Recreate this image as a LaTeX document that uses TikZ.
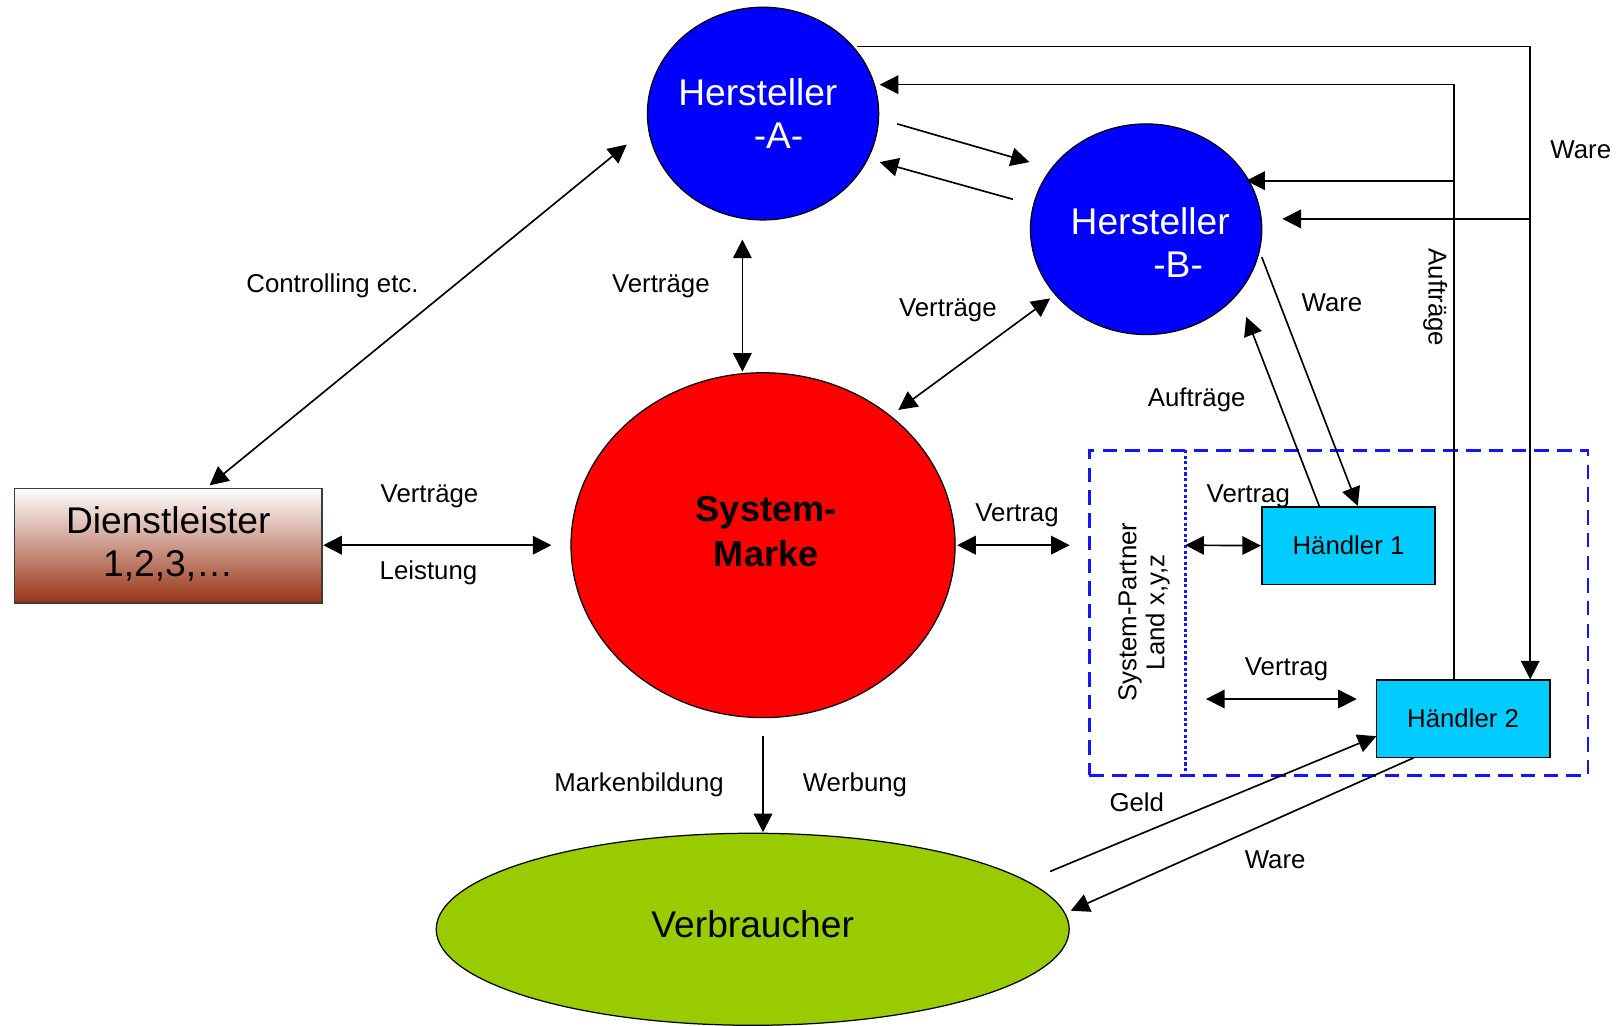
\documentclass[tikz,border=0pt]{standalone}
\usepackage{fontspec}
\setmainfont{Liberation Sans}
\usetikzlibrary{shapes.geometric,arrows.meta}
\definecolor{hblue}{RGB}{0,0,255}
\definecolor{mred}{RGB}{255,0,0}
\definecolor{vgreen}{RGB}{153,204,0}
\definecolor{hcyan}{RGB}{0,204,255}
\definecolor{dbrown}{RGB}{153,51,21}
\definecolor{sblue}{RGB}{20,20,255}
\tikzset{
  lbl/.style={font=\fontsize{25}{29}\selectfont, inner sep=0pt},
  bigtxt/.style={font=\fontsize{36}{41.5}\selectfont, align=center, inner sep=0pt},
  conn/.style={line width=1.6pt},
  arr/.style={conn, -{Triangle[length=18pt,width=18pt]}},
  darr/.style={conn, {Triangle[length=18pt,width=18pt]}-{Triangle[length=18pt,width=18pt]}},
  oval/.style={ellipse, draw=black, line width=1.2pt, inner sep=0pt},
  haendler/.style={rectangle, draw=black, line width=1.6pt, fill=hcyan, minimum width=168pt, minimum height=75pt, inner sep=0pt, font=\fontsize{25}{29}\selectfont}
}
\begin{document}
\begin{tikzpicture}[x=1pt,y=-1pt]
\useasboundingbox (0,0) rectangle (1568,993);

% main shapes
\node[oval, fill=hblue, minimum width=224pt, minimum height=206pt] (A) at (739,110) {};
\node[bigtxt, text=white] (Atxt) at (734,110) {Hersteller\\\hspace*{40pt}-A-};
\node[oval, fill=hblue, minimum width=224pt, minimum height=204pt] (B) at (1110,222) {};
\node[bigtxt, text=white] (Btxt) at (1114,235) {Hersteller\\\hspace*{54pt}-B-};
\node[oval, fill=mred, minimum width=372pt, minimum height=334pt] (M) at (739,528) {};
\node[bigtxt, font=\fontsize{35}{44}\selectfont\bfseries] (Mtxt) at (742,515) {System-\\Marke};
\node[oval, fill=vgreen, minimum width=613pt, minimum height=186pt] (V) at (729,900) {};
\node[bigtxt] (Vtxt) at (729,895) {Verbraucher};
\node[rectangle, draw={rgb,255:red,60;green,60;blue,60}, line width=1.6pt, top color=white, bottom color=dbrown, minimum width=298pt, minimum height=111pt, inner sep=0pt] (D) at (163,528.5) {};
\node[bigtxt] (Dtxt) at (163,527) {Dienstleister\\1,2,3,…};

% System-Partner area
\node[rectangle, draw=sblue, line width=2.6pt, dash pattern=on 14pt off 8pt, minimum width=483pt, minimum height=315pt, inner sep=0pt] (SP) at (1296.5,593.5) {};
\coordinate (dotT) at (1148,436);
\coordinate (dotB) at (1148,751);
\draw[sblue, line width=3pt, dash pattern=on 3pt off 2.4pt] (dotT) -- (dotB);
\node[lbl, rotate=90, align=center, font=\fontsize{25}{27}\selectfont] (SPtxt) at (1108,593) {System-Partner\\Land x,y,z};

\node[haendler] (H1) at (1306,528.5) {Händler 1};
\node[haendler] (H2) at (1417,696) {Händler 2};

% Controlling
\coordinate (c1a) at (607,140); \coordinate (c1b) at (203,470);
\draw[darr] (c1a) -- (c1b);
\node[lbl] (lcontr) at (322,277) {Controlling etc.};

% Vertraege A - M
\coordinate (c2a) at (719,232); \coordinate (c2b) at (719,360);
\draw[darr] (c2a) -- (c2b);
\node[lbl] (lvtr1) at (640,277) {Verträge};

% Vertraege B - M
\coordinate (c3a) at (1017,289); \coordinate (c3b) at (870,397);
\draw[darr] (c3a) -- (c3b);
\node[lbl] (lvtr2) at (918,301) {Verträge};

% A <-> B
\coordinate (c4a) at (869,120); \coordinate (c4b) at (997,157);
\draw[arr] (c4a) -- (c4b);
\coordinate (c5a) at (981,193); \coordinate (c5b) at (852,157);
\draw[arr] (c5a) -- (c5b);

% Ware line from A to Haendler 2 and B
\coordinate (w1) at (830,45); \coordinate (w2) at (1482,45);
\coordinate (w3) at (1482,658); \coordinate (w4) at (1482,212); \coordinate (w5) at (1242,212);
\draw[arr] (w1) -- (w2) -- (w3);
\draw[arr] (w4) -- (w5);
\node[lbl] (lware1) at (1531,145) {Ware};

% Auftraege line from Haendler 2 to A and B
\coordinate (a1) at (1408,659); \coordinate (a2) at (1408,82);
\coordinate (a3) at (852,82); \coordinate (a4) at (1408,175); \coordinate (a5) at (1207,175);
\draw[arr] (a1) -- (a2) -- (a3);
\draw[arr] (a4) -- (a5);
\node[lbl, rotate=-90] (lauf1) at (1390,288) {Aufträge};

% B <-> Haendler 1
\coordinate (b1) at (1222,249); \coordinate (b2) at (1315,490);
\draw[arr] (b1) -- (b2);
\node[lbl] (lware2) at (1290,293) {Ware};
\coordinate (b3) at (1278,491); \coordinate (b4) at (1207,307);
\draw[arr] (b3) -- (b4);
\node[lbl] (lauf2) at (1159,387) {Aufträge};

% Vertrag M - SP
\coordinate (v1a) at (927,528); \coordinate (v1b) at (1036,528);
\draw[darr] (v1a) -- (v1b);
\node[lbl] (lvertrag1) at (985,499) {Vertrag};

% Vertrag SP - H1
\coordinate (v2a) at (1148,528);
\draw[darr] (v2a) -- (H1.west);
\node[lbl] (lvertrag2) at (1209,481) {Vertrag};

% Vertrag SP - H2
\coordinate (v3a) at (1168,677); \coordinate (v3b) at (1314,677);
\draw[darr] (v3a) -- (v3b);
\node[lbl] (lvertrag3) at (1246,648) {Vertrag};

% Dienstleister <-> M
\coordinate (d1a) at (313,528); \coordinate (d1b) at (534,528);
\draw[darr] (d1a) -- (d1b);
\node[lbl] (lvtr3) at (416,481) {Verträge};
\node[lbl] (lleist) at (415,555) {Leistung};

% Markenbildung
\coordinate (m1a) at (739,713); \coordinate (m1b) at (739,806);
\draw[arr] (m1a) -- (m1b);
\node[lbl] (lmarken) at (619,760) {Markenbildung};
\node[lbl] (lwerb) at (828,760) {Werbung};

% Geld / Ware to Verbraucher
\coordinate (g1) at (1017,844); \coordinate (g2) at (1333,713);
\draw[arr] (g1) -- (g2);
\node[lbl] (lgeld) at (1101,777) {Geld};
\coordinate (g3) at (1369,734); \coordinate (g4) at (1037,882);
\draw[arr] (g3) -- (g4);
\node[lbl] (lware3) at (1235,833) {Ware};
\end{tikzpicture}
\end{document}
